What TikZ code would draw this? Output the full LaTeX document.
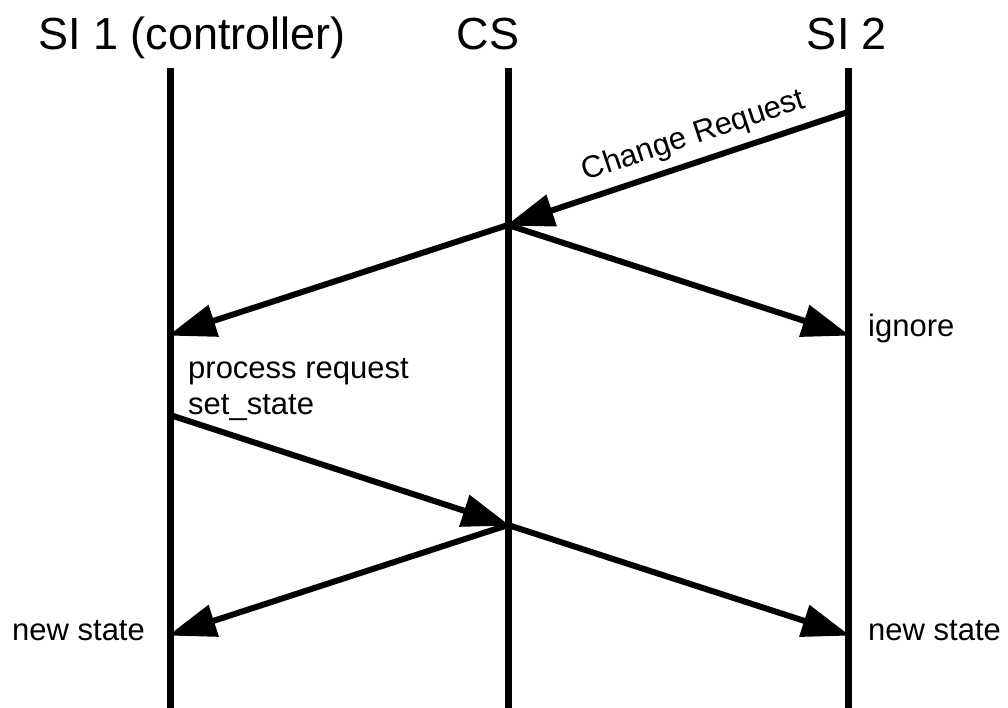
\documentclass[tikz,border=0pt]{standalone}
\usepackage{fontspec}
\setmainfont{Liberation Sans}
\usetikzlibrary{arrows.meta}
\begin{document}
\begin{tikzpicture}[x=1pt,y=-1pt,
  life/.style={line width=7pt},
  msg/.style={line width=6pt,-{Triangle[length=48pt,width=32pt]},shorten >=-2pt},
  head/.style={anchor=base,inner sep=0pt,font=\fontsize{45}{54}\selectfont},
  lbl/.style={inner sep=0pt,font=\fontsize{31}{38}\selectfont}]
\useasboundingbox (0,0) rectangle (1008,708);
% lifelines
\coordinate (l1t) at (170,68); \coordinate (l1b) at (170,708);
\coordinate (l2t) at (508,68); \coordinate (l2b) at (508,708);
\coordinate (l3t) at (848,68); \coordinate (l3b) at (848,708);
\draw[life] (l1t) -- (l1b);
\draw[life] (l2t) -- (l2b);
\draw[life] (l3t) -- (l3b);
% headers
\node[head] (h1) at (192,50) {SI 1 (controller)};
\node[head] (h2) at (488,50) {CS};
\node[head] (h3) at (847,50) {SI 2};
% events
\coordinate (s2a) at (848,112);
\coordinate (csa) at (508,225);
\coordinate (s1b) at (170,335);
\coordinate (s2b) at (848,335);
\coordinate (s1c) at (170,415);
\coordinate (csb) at (508,525);
\coordinate (s1d) at (170,635);
\coordinate (s2d) at (848,635);
\draw[msg] (s2a) -- node[lbl,sloped,above=8pt,pos=0.43] (cr) {Change Request} (csa);
\draw[msg] (csa) -- (s1b);
\draw[msg] (csa) -- (s2b);
\draw[msg] (s1c) -- (csb);
\draw[msg] (csb) -- (s1d);
\draw[msg] (csb) -- (s2d);
% labels
\node[lbl,anchor=base west] (ig) at (868,336) {ignore};
\node[lbl,anchor=base west] (pr) at (188,378) {process request};
\node[lbl,anchor=base west] (ss) at (188,414) {set\_state};
\node[lbl,anchor=base west] (ns1) at (12,640) {new state};
\node[lbl,anchor=base west] (ns2) at (868,640) {new state};
\end{tikzpicture}
\end{document}
